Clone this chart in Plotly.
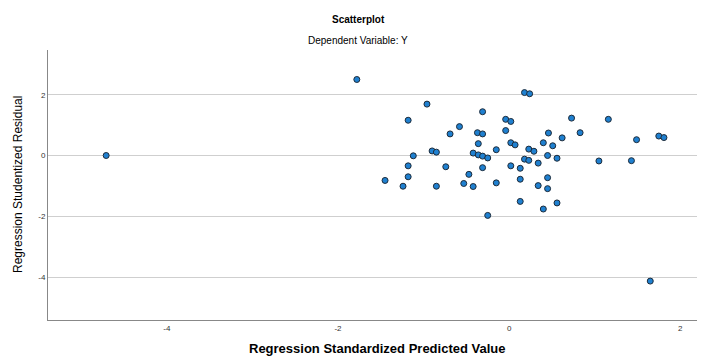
import plotly.graph_objects as go

# Regression Standardized Predicted Value (x) and Studentized Residual (y)
pred = [-4.71, -1.78, 0.18, 0.24, -0.96, -0.31, -1.18, -0.04, 0.02, -0.58,
        -0.69, -0.37, -0.31, -0.04, -0.36, 0.02, 0.07, -0.15, 0.23, 0.29,
        -0.90, -0.85, -1.12, -0.42, -0.36, -0.31, -0.25, 0.18, 0.23, 0.34,
        -1.18, -0.74, -0.31, 0.02, 0.13, -0.47, -1.18, -1.45, 0.13, -1.24,
        -0.85, -0.53, -0.42, -0.15, 0.34, 0.13, -0.25, 0.40, 0.51, 0.45,
        0.56, 0.45, 0.45, 0.56, 0.40, 0.73, 1.16, 0.46, 0.83, 0.62,
        1.49, 1.75, 1.81, 1.05, 1.43, 1.65]
resid = [0.00, 2.50, 2.07, 2.03, 1.69, 1.44, 1.16, 1.19, 1.12, 0.95,
         0.71, 0.75, 0.71, 0.82, 0.39, 0.42, 0.35, 0.19, 0.21, 0.14,
         0.15, 0.11, -0.01, 0.08, 0.02, -0.02, -0.08, -0.12, -0.16, -0.25,
         -0.34, -0.37, -0.40, -0.34, -0.42, -0.62, -0.70, -0.82, -0.78, -1.01,
         -1.01, -0.92, -1.02, -0.90, -0.99, -1.51, -1.97, 0.42, 0.32, 0.00,
         -0.09, -0.73, -1.09, -1.56, -1.76, 1.23, 1.19, 0.74, 0.75, 0.58,
         0.52, 0.64, 0.59, -0.18, -0.17, -4.13]

x_ticks = [-4, -2, 0, 2]
y_ticks = [-4, -2, 0, 2]

fig = go.Figure()
fig.add_trace(go.Scatter(
    x=pred, y=resid, mode="markers",
    marker=dict(size=6, color="#1f80d0", line=dict(color="#1d2b3a", width=1)),
    showlegend=False, cliponaxis=False,
))

font_family = "Liberation Sans, Arial, sans-serif"

fig.update_layout(
    width=697, height=348,
    margin=dict(l=40, r=0, t=42, b=36),
    paper_bgcolor="white", plot_bgcolor="white",
    font=dict(family=font_family, color="#000"),
    annotations=[
        dict(text="<b>Scatterplot</b>", xref="paper", yref="paper",
             x=0.472, y=1, yshift=31, xanchor="center", yanchor="middle",
             showarrow=False, font=dict(size=10, family=font_family)),
        dict(text="Dependent Variable: Y", xref="paper", yref="paper",
             x=0.472, y=1, yshift=10, xanchor="center", yanchor="middle",
             showarrow=False, font=dict(size=10, family=font_family)),
        dict(text="<b>Regression Standardized Predicted Value</b>", xref="paper", yref="paper",
             x=0.5, y=0, yshift=-28, xanchor="center", yanchor="middle",
             showarrow=False, font=dict(size=13, family=font_family)),
        dict(text="Regression Studentized Residual", xref="paper", yref="paper",
             x=0, xshift=-30, y=0.5, xanchor="center", yanchor="middle", textangle=-90,
             showarrow=False, font=dict(size=12, family=font_family)),
    ],
)
fig.update_xaxes(
    range=[-5.39, 2.29], tickvals=x_ticks, ticktext=[str(v) for v in x_ticks],
    showgrid=False, zeroline=False, showline=True, linecolor="#888", linewidth=1,
    ticks="", tickfont=dict(size=8, color="#333"),
)
fig.update_yaxes(
    range=[-5.41, 3.47], tickvals=y_ticks, ticktext=[str(v) for v in y_ticks],
    showgrid=True, gridcolor="#cfcfcf", gridwidth=1, zeroline=False,
    showline=True, linecolor="#888", linewidth=1,
    ticks="", tickfont=dict(size=8, color="#333"),
)

fig.write_html("out.html")
